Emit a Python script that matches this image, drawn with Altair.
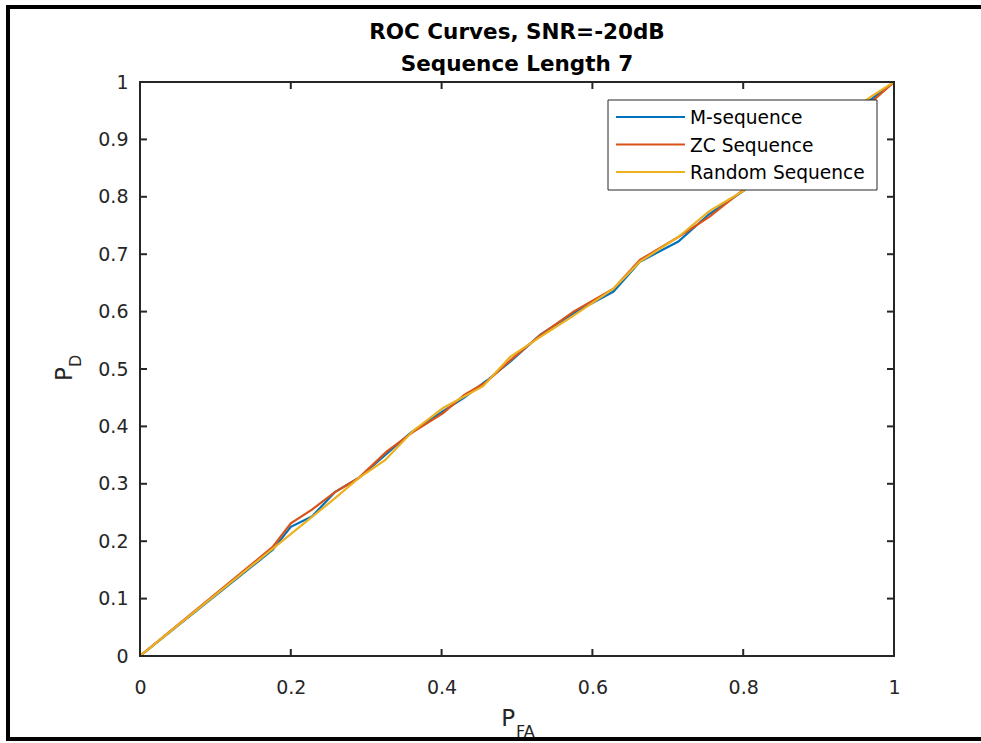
import altair as alt
import pandas as pd

# ---- data ----
series_names = ["M-sequence", "ZC Sequence", "Random Sequence"]
series_colors = ["#0072BD", "#D95319", "#EDB120"]

m_pfa = [0, 0.176, 0.2, 0.228, 0.259, 0.29, 0.325, 0.36, 0.40, 0.43, 0.46, 0.491, 0.531, 0.575, 0.628, 0.663, 0.714, 0.755, 0.80, 0.85, 0.90, 0.95, 0.97, 1.0]
m_pd = [0, 0.185, 0.225, 0.243, 0.286, 0.31, 0.35, 0.39, 0.425, 0.45, 0.48, 0.513, 0.56, 0.597, 0.635, 0.687, 0.722, 0.77, 0.81, 0.86, 0.905, 0.955, 0.97, 1.0]

zc_pfa = [0, 0.176, 0.2, 0.228, 0.259, 0.29, 0.327, 0.362, 0.402, 0.43, 0.46, 0.491, 0.531, 0.575, 0.628, 0.663, 0.714, 0.755, 0.80, 0.90, 0.97, 1.0]
zc_pd = [0, 0.19, 0.231, 0.255, 0.286, 0.31, 0.356, 0.39, 0.423, 0.455, 0.478, 0.515, 0.559, 0.60, 0.64, 0.69, 0.73, 0.765, 0.812, 0.905, 0.965, 1.0]

rnd_pfa = [0, 0.256, 0.29, 0.325, 0.362, 0.402, 0.455, 0.491, 0.531, 0.575, 0.628, 0.663, 0.714, 0.755, 0.80, 0.90, 0.97, 1.0]
rnd_pd = [0, 0.272, 0.31, 0.341, 0.392, 0.432, 0.47, 0.521, 0.556, 0.593, 0.64, 0.687, 0.73, 0.775, 0.81, 0.91, 0.975, 1.0]

x_ticks = [0, 0.2, 0.4, 0.6, 0.8, 1.0]
y_ticks = [0, 0.1, 0.2, 0.3, 0.4, 0.5, 0.6, 0.7, 0.8, 0.9, 1.0]

title_lines = ["ROC Curves, SNR=-20dB", "Sequence Length 7"]

# ---- layout ----
W, H = 754, 574
AX = "#262626"
FONT = "DejaVu Sans"

frames = []
for name, xs, ys in zip(series_names, [m_pfa, zc_pfa, rnd_pfa], [m_pd, zc_pd, rnd_pd]):
    frames.append(pd.DataFrame({"pfa": xs, "pd": ys, "series": name}))
df = pd.concat(frames, ignore_index=True)

xscale = alt.Scale(domain=[0, 1], nice=False, zero=False)
yscale = alt.Scale(domain=[0, 1], nice=False, zero=False)

xaxis = alt.Axis(values=x_ticks, format="~g", title=None, grid=False, domain=False,
                 ticks=False, labelFont=FONT, labelFontSize=19, labelColor=AX,
                 labelPadding=22, labelFlush=False)
yaxis = alt.Axis(values=y_ticks, format="~g", title=None, grid=False, domain=False,
                 ticks=False, labelFont=FONT, labelFontSize=19, labelColor=AX,
                 labelPadding=12, labelFlush=False)

layers = []
for i, (name, color) in enumerate(zip(series_names, series_colors)):
    layers.append(
        alt.Chart(df).transform_filter(alt.datum.series == name)
        .mark_line(color=color, strokeWidth=2.2, clip=True)
        .encode(x=alt.X("pfa:Q", scale=xscale, axis=xaxis),
                y=alt.Y("pd:Q", scale=yscale, axis=yaxis),
                order="pfa:Q")
    )

xt = pd.DataFrame({"pfa": x_ticks})
yt = pd.DataFrame({"pd": y_ticks})
tick_style = dict(color=AX, strokeWidth=2)
layers += [
    alt.Chart(xt).mark_rule(**tick_style).encode(
        x=alt.X("pfa:Q", scale=xscale, axis=xaxis), y=alt.value(H), y2=alt.value(H - 7)),
    alt.Chart(xt).mark_rule(**tick_style).encode(
        x=alt.X("pfa:Q", scale=xscale, axis=xaxis), y=alt.value(0), y2=alt.value(7)),
    alt.Chart(yt).mark_rule(**tick_style).encode(
        y=alt.Y("pd:Q", scale=yscale, axis=yaxis), x=alt.value(0), x2=alt.value(7)),
    alt.Chart(yt).mark_rule(**tick_style).encode(
        y=alt.Y("pd:Q", scale=yscale, axis=yaxis), x=alt.value(W), x2=alt.value(W - 7)),
]

one = pd.DataFrame({"a": [0]})

# legend box
layers.append(alt.Chart(one).mark_rect(fill="white", stroke=AX, strokeWidth=1).encode(
    x=alt.value(468), x2=alt.value(737), y=alt.value(18), y2=alt.value(108)))
for i, (name, color) in enumerate(zip(series_names, series_colors)):
    yy = 35 + i * 27.5
    layers.append(alt.Chart(one).mark_rule(color=color, strokeWidth=2.2).encode(
        x=alt.value(476), x2=alt.value(545), y=alt.value(yy)))
    layers.append(alt.Chart(one).mark_text(align="left", baseline="middle", font=FONT,
                                           fontSize=18.6, color="black").encode(
        x=alt.value(550), y=alt.value(yy + 1), text=alt.value(name)))

# titles
for i, t in enumerate(title_lines):
    layers.append(alt.Chart(one).mark_text(align="center", baseline="middle", font=FONT,
                                           fontSize=21.5, fontWeight="bold", color="black").encode(
        x=alt.value(W / 2), y=alt.value(-49 + i * 32), text=alt.value(t)))

# axis titles with subscripts
layers.append(alt.Chart(one).mark_text(align="right", baseline="alphabetic", font=FONT,
                                       fontSize=23, color=AX).encode(
    x=alt.value(375), y=alt.value(644), text=alt.value("P")))
layers.append(alt.Chart(one).mark_text(align="left", baseline="alphabetic", font=FONT,
                                       fontSize=16, color=AX).encode(
    x=alt.value(376), y=alt.value(655), text=alt.value("FA")))
layers.append(alt.Chart(one).mark_text(align="right", baseline="alphabetic", font=FONT,
                                       fontSize=23, color=AX, angle=270).encode(
    x=alt.value(-68), y=alt.value(285), text=alt.value("P")))
layers.append(alt.Chart(one).mark_text(align="left", baseline="alphabetic", font=FONT,
                                       fontSize=16, color=AX, angle=270).encode(
    x=alt.value(-59), y=alt.value(285), text=alt.value("D")))

# outer frame
layers.append(alt.Chart(one).mark_rect(fillOpacity=0, stroke="black", strokeWidth=4).encode(
    x=alt.value(-132), x2=alt.value(900), y=alt.value(-75), y2=alt.value(657)))

chart = alt.layer(*layers).properties(
    width=W, height=H,
    autosize=alt.AutoSizeParams(type="none"),
    padding={"left": 140, "top": 82, "right": 87, "bottom": 87},
    background="white",
).configure_view(stroke=AX, strokeWidth=2)

chart.save("out.html", embed_options={"renderer": "svg", "actions": False})
